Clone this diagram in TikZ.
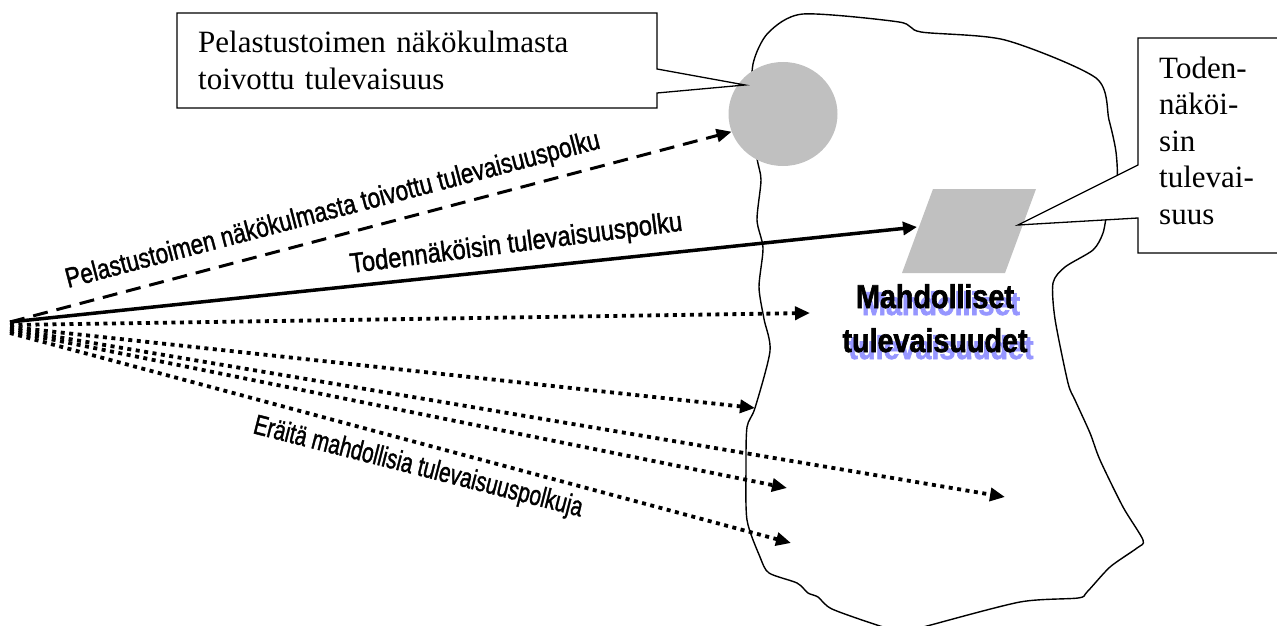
\documentclass[tikz,border=0pt]{standalone}
\usepackage{fontspec}
\setmainfont{Liberation Serif}
\setsansfont{Liberation Sans}
\newfontfamily\labelfont{Liberation Sans}[FakeBold=1.5]
\newfontfamily\headfont{Liberation Sans Bold}[FakeBold=2]
\usepackage{graphicx}
\usetikzlibrary{shapes.geometric, arrows.meta, calc}
\definecolor{shapegray}{RGB}{192, 192, 192}
\definecolor{shadowblue}{RGB}{150, 150, 255}
\newcommand{\squeeze}[2]{\scalebox{#1}[1]{#2}}

\begin{document}
\begin{tikzpicture}[x=1pt, y=-1pt,
    boxtext/.style={anchor=base west, inner sep=0pt, align=left, font=\fontsize{31}{36.5}\selectfont},
    calloutline/.style={line width=1.3pt, fill=white, line join=miter},
    pathlabel/.style={anchor=base west, inner sep=0pt, font=\labelfont\fontsize{28}{30}\selectfont},
    possibletext/.style={anchor=base, inner sep=0pt, text width=220pt, align=center,
        font=\headfont\fontsize{33}{44}\selectfont},
    wishpath/.style={line width=3pt, dash pattern=on 15pt off 9pt, -{Triangle[length=15pt, width=13pt]}},
    likelypath/.style={line width=3.5pt, -{Triangle[length=14pt, width=13pt]}},
    possiblepath/.style={line width=3.8pt, dash pattern=on 4pt off 4.5pt, -{Triangle[length=15pt, width=13pt]}}]
\useasboundingbox (0,0) rectangle (1277,626);

% mahdollisten tulevaisuuksien alue
\draw[line width=1.4pt, fill=white] plot[smooth cycle, tension=0.45] coordinates {
    (753,64) (768,33) (803,14) (899,22) (921,32) (1005,40) (1096,78) (1109,120)
    (1116,152) (1117,183) (1108,208) (1103,233) (1093,250) (1065,267) (1053,283)
    (1055,319) (1068,383) (1075,400) (1090,433) (1100,460) (1123,507) (1143,540)
    (1137,548) (1110,567) (1087,592) (1078,598) (1020,602) (927,626) (905,632)
    (880,626) (832,609) (818,597) (808,593) (797,583) (769,573) (760,557) (747,520)
    (746,467) (747,427) (755,408) (770,351) (764,319) (759,287) (763,248) (757,220)
    (761,180) (757,158) (752,110)};

\coordinate (origin) at (10,322);
\coordinate (likely) at (917,227);
\coordinate (p1) at (810,313);
\coordinate (p2) at (755,408);
\coordinate (p3) at (1005,497);
\coordinate (p4) at (787,488);
\coordinate (p5) at (791,543);
\coordinate (wishtip) at (745,85);
\coordinate (likelytip) at (1018,225);

\node[ellipse, fill=shapegray, minimum width=109pt, minimum height=104pt, inner sep=0pt] (wish) at (783,114) {};
\fill[shapegray] (933,189) -- (1036,189) -- (1005,273) -- (902,273) -- cycle;

\draw[wishpath] (origin) -- (wish.199);
\draw[likelypath] (origin) -- (likely);
\foreach \i/\dy in {1/3, 2/5, 3/7, 4/9, 5/11}
    \draw[possiblepath] ($(origin)+(0,\dy)$) -- (p\i);

\node[pathlabel, rotate=14.7] (wishlabel) at (68,288) {\squeeze{0.805}{Pelastustoimen näkökulmasta toivottu tulevaisuuspolku}};
\node[pathlabel, rotate=7.3] (likelylabel) at (351,273) {\squeeze{0.85}{Todennäköisin tulevaisuuspolku}};
\node[pathlabel, rotate=-14.3] (possiblelabel) at (252,433) {\squeeze{0.74}{Eräitä mahdollisia tulevaisuuspolkuja}};

\node[possibletext, text=shadowblue] (possibleshadow) at (941,315) {\squeeze{0.87}{Mahdolliset}\\\squeeze{0.87}{tulevaisuudet}};
\node[possibletext] (possible) at (935,308) {\squeeze{0.87}{Mahdolliset}\\\squeeze{0.87}{tulevaisuudet}};

% selitelaatikot
\draw[calloutline] (177,13) -- (657,13) -- (657,69) -- (wishtip) -- (657,93) -- (657,108) -- (177,108) -- cycle;
\node[boxtext, text width=440pt] (wishbox) at (198,53) {Pelastustoimen näkökulmasta\\toivottu tulevaisuus};

\draw[calloutline] (1138,38) -- (1285,38) -- (1285,253) -- (1138,253) -- (1138,218) -- (likelytip) -- (1138,165) -- cycle;
\node[boxtext, text width=110pt] (likelybox) at (1159,78) {Toden-\\näköi-\\sin\\tulevai-\\suus};
\end{tikzpicture}
\end{document}
